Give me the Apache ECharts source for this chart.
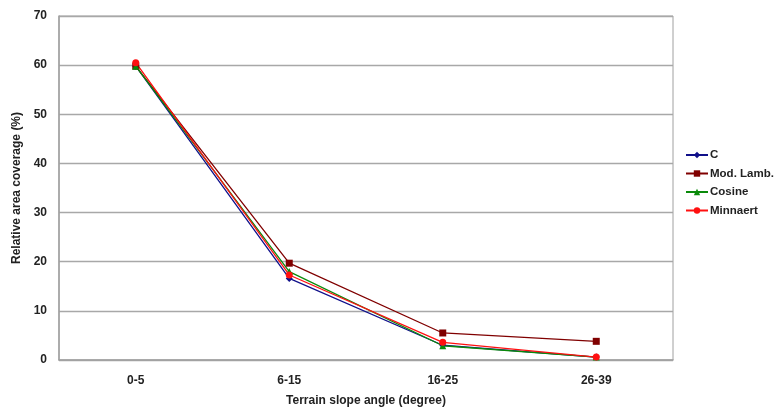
<!DOCTYPE html>
<html>
<head>
<meta charset="utf-8">
<script src="https://cdn.jsdelivr.net/npm/echarts@6/dist/echarts.min.js"></script>
<style>html,body{margin:0;padding:0;background:#fff}#c{width:777px;height:412px}</style>
</head>
<body>
<div id="c"></div>
<script>
const categories = ['0-5', '6-15', '16-25', '26-39'];
const cValues = [59.8, 16.6, 3.0, 0.6];
const modLambValues = [59.8, 19.7, 5.5, 3.8];
const cosineValues = [59.8, 18.0, 2.9, 0.6];
const minnaertValues = [60.5, 17.3, 3.6, 0.6];
const yTicks = [0, 10, 20, 30, 40, 50, 60, 70];

const font = 'Liberation Sans, Arial, sans-serif';
const chart = echarts.init(document.getElementById('c'));
function s(name, data, color, symbol, size) {
  return {
    name, type: 'line', data, symbol, symbolSize: size,
    itemStyle: { color }, lineStyle: { color, width: 1.3 },
    emphasis: { disabled: true }, animation: false
  };
}
chart.setOption({
  animation: false,
  grid: { left: 59, right: 104, top: 16, bottom: 51, show: true, borderColor: '#a0a0a0', borderWidth: 1 },
  xAxis: {
    type: 'category', data: categories, boundaryGap: true,
    axisLine: { lineStyle: { color: '#a0a0a0', width: 1.5 } },
    axisTick: { show: false },
    axisLabel: { color: '#222', fontWeight: 'bold', fontSize: 12, fontFamily: font, margin: 15 },
    name: 'Terrain slope angle (degree)', nameLocation: 'middle', nameGap: 35,
    nameTextStyle: { color: '#222', fontWeight: 'bold', fontSize: 12, fontFamily: font }
  },
  yAxis: {
    type: 'value', min: yTicks[0], max: yTicks[yTicks.length - 1], interval: 10,
    axisLine: { show: true, lineStyle: { color: '#a0a0a0', width: 1.5 } },
    axisTick: { show: false },
    splitLine: { lineStyle: { color: '#a8a8a8', width: 1.3 } },
    axisLabel: { color: '#222', fontWeight: 'bold', fontSize: 12, fontFamily: font, margin: 12 },
    name: 'Relative area coverage (%)', nameLocation: 'middle', nameGap: 31,
    nameTextStyle: { color: '#222', fontWeight: 'bold', fontSize: 12, fontFamily: font }
  },
  legend: {
    orient: 'vertical', left: 680, top: 144, itemGap: 6.5, itemWidth: 22, itemHeight: 8,
    textStyle: { color: '#222', fontWeight: 'bold', fontSize: 11.5, fontFamily: font, padding: [0, 0, 0, -3] },
    data: ['C', 'Mod. Lamb.', 'Cosine', 'Minnaert']
  },
  series: [
    s('C', cValues, '#10108a', 'diamond', 7),
    s('Mod. Lamb.', modLambValues, '#800000', 'rect', 7),
    s('Cosine', cosineValues, '#0a8a0a', 'triangle', 7),
    s('Minnaert', minnaertValues, '#ff1010', 'circle', 7)
  ]
});
</script>
</body>
</html>
